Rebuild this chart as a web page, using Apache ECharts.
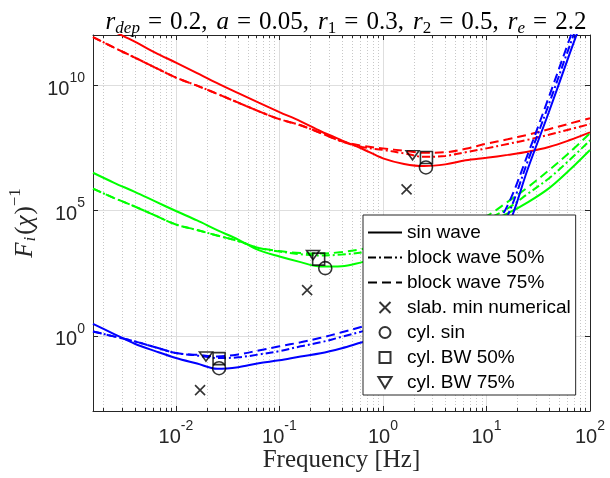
<!DOCTYPE html>
<html><head><meta charset="utf-8">
<script src="https://cdn.jsdelivr.net/npm/echarts@6/dist/echarts.min.js"></script>
<style>html,body{margin:0;padding:0;background:#fff}#c{width:610px;height:478px}</style>
</head><body><div id="c"></div>
<script>
// ---- data ----
const freq = [0.00158,0.0025,0.004,0.0063,0.01,0.016,0.025,0.04,0.063,0.1,0.16,0.25,0.4,0.63,1,1.6,2.5,4,6.3,10,16,25,40,63,100];

const redSin  = [3.6e12,1.4e12,5.4e11,2.0e11,7.9e10,3.0e10,1.2e10,4.8e9,2.0e9,8.4e8,3.6e8,1.45e8,6.3e7,2.9e7,1.2e7,7.2e6,5.9e6,6.9e6,1.0e7,1.26e7,1.65e7,2.2e7,3.4e7,6.3e7,1.3e8];
const redBW50 = [8.3e11,3.2e11,1.26e11,5.0e10,2.0e10,9.5e9,4.5e9,2.0e9,9.1e8,4.4e8,2.5e8,1.23e8,5.6e7,3.4e7,2.6e7,1.9e7,1.38e7,1.5e7,2.1e7,3.0e7,4.5e7,6.6e7,1.05e8,1.7e8,2.8e8];
const redBW75 = [8.3e11,3.2e11,1.26e11,5.0e10,2.0e10,9.5e9,4.5e9,2.0e9,9.1e8,4.4e8,2.5e8,1.23e8,5.8e7,3.8e7,3.0e7,2.4e7,2.0e7,2.1e7,2.9e7,4.6e7,6.9e7,1.05e8,1.74e8,2.9e8,4.8e8];

const greenSin  = [3.2e6,1.3e6,5.5e5,2.3e5,9.5e4,4.0e4,1.65e4,6.9e3,2.6e3,1.45e3,8.7e2,5.8e2,6.0e2,8.7e2,1.3e3,2.1e3,3.6e3,6.9e3,1.45e4,3.3e4,7.6e4,2.1e5,7.6e5,4.0e6,2.6e7];
const greenBW50 = [7.4e5,3.2e5,1.44e5,6.3e4,2.75e4,1.66e4,1.0e4,6.0e3,3.2e3,2.3e3,1.8e3,1.6e3,1.74e3,2.1e3,3.0e3,4.4e3,6.9e3,1.2e4,2.3e4,4.4e4,1.2e5,4.6e5,1.9e6,1.0e7,6.3e7];
const greenBW75 = [7.4e5,3.2e5,1.44e5,6.3e4,2.75e4,1.66e4,1.0e4,6.0e3,3.2e3,2.4e3,2.0e3,1.9e3,2.2e3,2.9e3,4.0e3,5.8e3,9.1e3,1.58e4,3.0e4,6.0e4,2.2e5,8.3e5,4.0e6,2.0e7,1.2e8];

const blueSin  = [3.0,1.2,0.48,0.245,0.13,0.078,0.048,0.056,0.081,0.105,0.15,0.2,0.32,0.55,0.91,1.74,4.4,17,120,910,2.1e4,4.4e6,8.3e8,1.6e11,3.0e13];
const blueBW50 = [1.48,0.95,0.60,0.35,0.205,0.165,0.13,0.138,0.18,0.245,0.38,0.55,0.91,1.5,2.5,5.2,14.5,58,360,2.5e3,6.3e4,9.1e6,1.7e9,3.3e11,6.3e13];
const blueBW75 = [1.48,0.95,0.60,0.35,0.205,0.174,0.15,0.18,0.26,0.38,0.55,0.83,1.38,2.3,4.0,9.1,27.5,120,830,6.9e3,1.6e5,1.7e7,3.3e9,6.3e11,1.2e14];

// markers: [frequency, value] for red, green, blue groups
const slabMin = [[1.69,6.9e5],[0.185,66],[0.0171,0.0068]];
const cylSin  = [[2.6,5.2e6],[0.277,500],[0.0261,0.051]];
const cylBW50 = [[2.63,1.3e7],[0.239,1.15e3],[0.0261,0.123]];
const cylBW75 = [[1.93,1.6e7],[0.211,1.66e3],[0.0195,0.148]];

const legendNames = ['sin wave','block wave 50%','block wave 75%','slab. min numerical','cyl. sin','cyl. BW 50%','cyl. BW 75%'];
// title pieces: [text, style]
const titleParts = [['r','i'],['dep','si'],['=','eq'],['0.2,','n'],['a','i'],['=','eq'],['0.05,','n'],['r','i'],['1','s'],['=','eq'],['0.3,','n'],['r','i'],['2','s'],['=','eq'],['0.5,','n'],['r','i'],['e','si'],['=','eq'],['2.2','nl']];
const xLabel = 'Frequency [Hz]';

const xMajor = [0.01,0.1,1,10,100];
const yMajor = [1,1e5,1e10];
const minorMult = [2,3,4,5,6,7,8,9];
const xRange = [0.00158,100];
const yRange = [1e-3,1e12];

// ---- build ----
const xMinor = [];
[-3,-2,-1,0,1].forEach(function(d){ minorMult.forEach(function(m){ const v = m*Math.pow(10,d); if (v>xRange[0] && v<xRange[1]) xMinor.push(+v.toPrecision(3)); }); });

const AX = '#262626';
const SANS = 'Liberation Sans';
const SERIF = 'Liberation Serif';
const pow10 = function(v){ const e = Math.round(Math.log10(v)); return '{b|10}{s|' + e + '}'; };
const tickRich = {
  b: {fontFamily:SANS, fontSize:20, color:AX, lineHeight:28, verticalAlign:'bottom'},
  s: {fontFamily:SANS, fontSize:14, color:AX, lineHeight:14, verticalAlign:'top'}
};
const dashStyles = ['solid',[8,3,2,3],[9,5]];

function mk(arr){ return freq.map(function(f,i){ return [f, arr[i]]; }); }

const groups = [
  {c:'#ff0000', d:[redSin, redBW50, redBW75]},
  {c:'#00ff00', d:[greenSin, greenBW50, greenBW75]},
  {c:'#0000ff', d:[blueSin, blueBW50, blueBW75]}
];
const series = [];
groups.forEach(function(g, gi){
  g.d.forEach(function(arr, k){
    series.push({type:'line', name:'g'+gi+'_'+k, data: mk(arr), symbol:'none', smooth:0.35, clip:true,
      lineStyle:{color:g.c, width:2, type:dashStyles[k]}, itemStyle:{color:g.c}, z:2});
  });
});
// legend-only line entries (black)
[0,1,2].forEach(function(k){
  series.push({type:'line', name:legendNames[k], data:[], symbol:'none', color:'#000',
    lineStyle:{color:'#000', width:2, type:dashStyles[k]}, itemStyle:{color:'#000'}});
});
const markerDefs = [
  {name:legendNames[3], data:slabMin, symbol:'path://M0,0L10,10M10,0L0,10', size:10},
  {name:legendNames[4], data:cylSin, symbol:'circle', size:13},
  {name:legendNames[5], data:cylBW50, symbol:'path://M0,0L10,0L10,10L0,10Z', size:12},
  {name:legendNames[6], data:cylBW75, symbol:'path://M0,0L12,0L6,10Z', size:[13,11]}
];
markerDefs.forEach(function(m){
  series.push({type:'scatter', name:m.name, data:m.data, symbol:m.symbol, symbolSize:m.size, symbolKeepAspect:true, z:5,
    itemStyle:{color:'rgba(0,0,0,0)', borderColor:'#000', borderWidth:1.6}});
});

const TF = 25;
const titleRich = {
  n:{fontFamily:SERIF, fontSize:TF, fontWeight:'normal', color:'#000', lineHeight:27, verticalAlign:'top', padding:[0,9,0,0]},
  nl:{fontFamily:SERIF, fontSize:TF, fontWeight:'normal', color:'#000', lineHeight:27, verticalAlign:'top'},
  eq:{fontFamily:SERIF, fontSize:TF, fontWeight:'normal', color:'#000', lineHeight:27, verticalAlign:'top', padding:[0,8,0,8]},
  i:{fontFamily:SERIF, fontSize:TF, fontWeight:'normal', fontStyle:'italic', color:'#000', lineHeight:27, verticalAlign:'top'},
  s:{fontFamily:SERIF, fontSize:17, fontWeight:'normal', color:'#000', lineHeight:17, verticalAlign:'bottom'},
  si:{fontFamily:SERIF, fontSize:17, fontWeight:'normal', fontStyle:'italic', color:'#000', lineHeight:17, verticalAlign:'bottom'}
};
const titleText = titleParts.map(function(p){ return '{'+p[1]+'|'+p[0]+'}'; }).join('');

const YF = 25;
const yNameRich = {
  n:{fontFamily:SERIF, fontSize:YF, color:AX, lineHeight:36, verticalAlign:'middle'},
  i:{fontFamily:SERIF, fontSize:YF, fontStyle:'italic', color:AX, lineHeight:36, verticalAlign:'middle', padding:[0,1,0,0]},
  sup:{fontFamily:SERIF, fontSize:17, color:AX, lineHeight:17, verticalAlign:'top'},
  sub:{fontFamily:SERIF, fontSize:17, fontStyle:'italic', color:AX, lineHeight:17, verticalAlign:'bottom', padding:[0,2,4,0]}
};

function xAx(pos, major){
  return {type:'log', logBase:10, min:xRange[0], max:xRange[1], position:pos,
    axisLine:{show:major, onZero:false, lineStyle:{color:AX, width:1}},
    axisTick:{show:true, inside:true, length: major?5:3, customValues: major?xMajor:xMinor, lineStyle:{color:AX, width:1}},
    axisLabel:{show: major && pos==='bottom', customValues:xMajor, formatter:pow10, rich:tickRich, margin:8},
    splitLine:{show: pos==='bottom', lineStyle: major ? {color:'#dedede', width:1} : {color:'#c8c8c8', width:1, type:[1,2]}},
    minorTick:{show:false}, minorSplitLine:{show:false}};
}
const xAxes = [xAx('bottom',true), xAx('bottom',false), xAx('top',true), xAx('top',false)];
xAxes[0].name = xLabel;
xAxes[0].nameLocation = 'middle';
xAxes[0].nameGap = 37;
xAxes[0].nameMoveOverlap = false;
xAxes[0].nameTextStyle = {fontFamily:SERIF, fontSize:25, color:AX};

function yAx(pos){
  const left = pos==='left';
  return {type:'log', logBase:10, min:yRange[0], max:yRange[1], position:pos,
    axisLine:{show:true, onZero:false, lineStyle:{color:AX, width:1}},
    axisTick:{show:true, inside:true, length:5, customValues:yMajor, lineStyle:{color:AX, width:1}},
    axisLabel:{show:left, customValues:yMajor, formatter:pow10, rich:tickRich, margin:8},
    splitLine:{show:left, lineStyle:{color:'#dedede', width:1}},
    minorTick:{show:false}, minorSplitLine:{show:false}};
}
const yAxes = [yAx('left'), yAx('right')];
yAxes[0].name = '{i|F}{sub|i}{n|(}{i|χ}{n|)}{sup|−1}';
yAxes[0].nameLocation = 'middle';
yAxes[0].nameRotate = 90;
yAxes[0].nameGap = 50;
yAxes[0].nameMoveOverlap = false;
yAxes[0].nameTextStyle = {rich:yNameRich};

const legendData = legendNames.map(function(n, i){
  return i < 3 ? {name:n, itemStyle:{opacity:0}} : {name:n};
});

const chart = echarts.init(document.getElementById('c'), null, {renderer:'canvas'});
chart.setOption({
  animation:false,
  backgroundColor:'#fff',
  title:{text:titleText, left:341, top:5, textAlign:'center', textStyle:{fontWeight:'normal', rich:titleRich}},
  grid:{left:93, top:35, width:497, height:376, containLabel:false, outerBoundsMode:'none'},
  xAxis:xAxes,
  yAxis:yAxes,
  legend:{data:legendData, orient:'vertical', left:363, top:215, itemWidth:34, itemHeight:11, itemGap:0,
    padding:[5,5,0,4], borderColor:AX, borderWidth:1, backgroundColor:'#fff', selectedMode:false,
    textStyle:{fontFamily:SANS, fontSize:19, color:'#000', lineHeight:25}},
  series:series
});
</script></body></html>
